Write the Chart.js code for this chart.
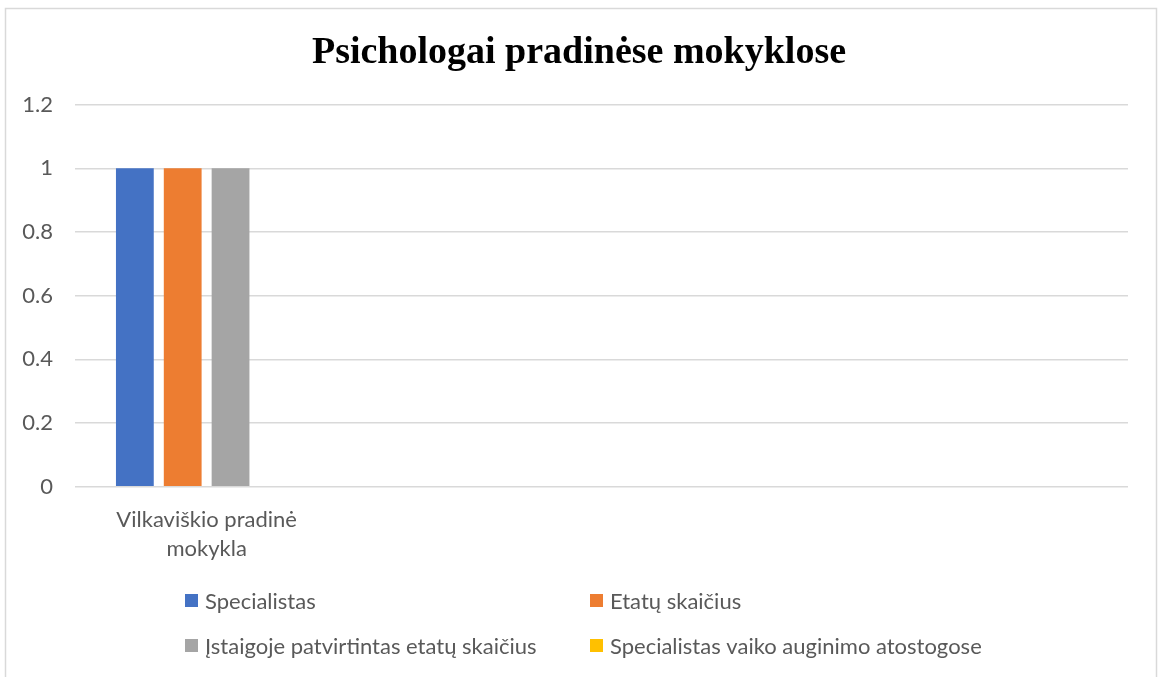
<!DOCTYPE html>
<html>
<head>
<meta charset="utf-8">
<script src="https://cdn.jsdelivr.net/npm/chart.js@4"></script>
<style>
  html, body { margin: 0; padding: 0; background: #fff; }
  #wrap { width: 1158px; height: 677px; }
</style>
</head>
<body>
<div id="wrap"><canvas id="myChart" width="1158" height="677"></canvas></div>
<script>
// data
const categories = [["Vilkaviškio pradinė", "mokykla"], "", "", ""];
const seriesNames = [
  "Specialistas",
  "Etatų skaičius",
  "Įstaigoje patvirtintas etatų skaičius",
  "Specialistas vaiko auginimo atostogose"
];
const specialistas = [1, null, null, null];
const etatai = [1, null, null, null];
const patvirtinta = [1, null, null, null];
const atostogose = [0, null, null, null];
const yTicks = [0, 0.2, 0.4, 0.6, 0.8, 1, 1.2];

const barColors = ["#4472C4", "#ED7D31", "#A5A5A5", "#FFC000"];
const textColor = "#595959";
const gridColor = "#d9d9d9";
const bodyFont = "Lato";

// frame round the whole chart, like the office chart border
const framePlugin = {
  id: "frame",
  beforeDraw(chart) {
    const c = chart.ctx;
    c.save();
    c.fillStyle = "#fff";
    c.fillRect(0, 0, chart.width, chart.height);
    c.strokeStyle = gridColor;
    c.lineWidth = 1.5;
    c.strokeRect(5.5, 8.5, chart.width - 7, chart.height + 20);
    c.restore();
  }
};

// two column legend under the plot
const legendPlugin = {
  id: "gridLegend",
  afterDraw(chart) {
    const c = chart.ctx;
    const cols = [185, 590];
    const rows = [600.5, 645.5];
    c.save();
    c.font = "22px " + bodyFont;
    c.textBaseline = "middle";
    chart.data.datasets.forEach(function (ds, i) {
      const x = cols[i % 2];
      const y = rows[Math.floor(i / 2)];
      c.fillStyle = ds.backgroundColor;
      c.fillRect(x, y - 6.5, 13, 13);
      c.fillStyle = textColor;
      c.fillText(ds.label, x + 20, y + 1);
    });
    c.restore();
  }
};

const datasets = [specialistas, etatai, patvirtinta, atostogose].map(function (vals, i) {
  return {
    label: seriesNames[i],
    data: vals,
    backgroundColor: barColors[i],
    categoryPercentage: 0.727,
    barPercentage: 0.79
  };
});

new Chart("myChart", {
  type: "bar",
  data: {
    labels: categories,
    datasets: datasets
  },
  options: {
    responsive: false,
    animation: false,
    layout: {
      padding: { top: 8, left: 15, right: 15, bottom: 0 }
    },
    plugins: {
      legend: { display: false },
      tooltip: { enabled: false },
      title: {
        display: true,
        text: "Psichologai pradinėse mokyklose",
        color: "#000",
        font: { family: "'Liberation Serif', 'Times New Roman', serif", size: 38, weight: "bold" },
        padding: { top: 22, bottom: 29 }
      }
    },
    scales: {
      x: {
        grid: { display: false },
        border: { display: false },
        ticks: {
          color: textColor,
          font: { family: bodyFont, size: 22, lineHeight: 1.35 },
          padding: 10,
          maxRotation: 0,
          autoSkip: false
        },
        afterFit(scale) { scale.height = 677 - 486.7; }
      },
      y: {
        min: 0,
        max: 1.2,
        afterBuildTicks(scale) {
          scale.ticks = yTicks.map(function (v) { return { value: v }; });
        },
        grid: { color: gridColor, lineWidth: 1.5, drawTicks: false },
        border: { display: false },
        ticks: {
          color: textColor,
          font: { family: bodyFont, size: 22 },
          padding: 22,
          callback: function (v) { return String(Number(v.toFixed(1))); }
        },
        afterFit(scale) { scale.width = 60; }
      },
      // empty strip on the right so the plot ends where the reference's does
      yRight: {
        position: "right",
        grid: { display: false },
        border: { display: false },
        ticks: { display: false },
        afterFit(scale) { scale.width = 15; }
      }
    }
  },
  plugins: [framePlugin, legendPlugin]
});
</script>
</body>
</html>
